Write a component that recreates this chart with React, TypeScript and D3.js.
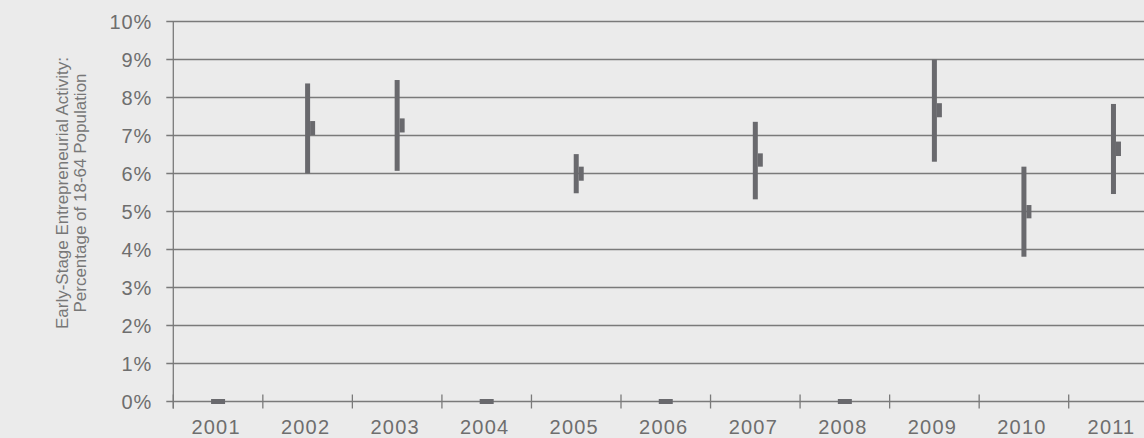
import React from 'react';
import * as d3 from 'd3';

const years = ['2001', '2002', '2003', '2004', '2005', '2006', '2007', '2008', '2009', '2010', '2011'];
// range of estimates (low / high) and the small interval box beside it, in %
const lows = [null, 6.0, 6.07, null, 5.48, null, 5.32, null, 6.31, 3.81, 5.46];
const highs = [null, 8.37, 8.46, null, 6.51, null, 7.36, null, 9.0, 6.18, 7.83];
const boxLows = [null, 7.01, 7.08, null, 5.81, null, 6.18, null, 7.48, 4.82, 6.46];
const boxHighs = [null, 7.38, 7.45, null, 6.18, null, 6.53, null, 7.85, 5.17, 6.84];
const yTicks = [0, 1, 2, 3, 4, 5, 6, 7, 8, 9, 10];
const titleLines = ['Early-Stage Entrepreneurial Activity:', 'Percentage of 18-64 Population'];

const W = 1144;
const H = 438;
const left = 173.3;
const top = 21.5;
const bottom = 401.5;

export default function App() {
  const x = d3.scaleBand<string>().domain(years).range([left, left + 11 * 89.54]).padding(0);
  const y = d3.scaleLinear().domain([0, 10]).range([bottom, top]);
  const bw = x.bandwidth();
  const markColor = '#69696d';
  const gridColor = '#7a7a7a';
  const textColor = '#6e6e6e';
  const font = 'Liberation Sans, Arial, Helvetica, sans-serif';

  const edges = years.map((d) => x(d) as number).concat([(x(years[years.length - 1]) as number) + bw]);

  return (
    <svg width={W} height={H} style={{ position: 'absolute', left: 0, top: 0, display: 'block' }}>
      <rect x={0} y={0} width={W} height={H} fill="#ebebeb" />

      {/* gridlines + y labels */}
      {yTicks.map((t) => (
        <g key={'y' + t}>
          <line x1={left - 7} x2={W} y1={y(t)} y2={y(t)} stroke={gridColor} strokeWidth={1.3} />
          <text
            x={152}
            y={y(t)}
            dy="0.35em"
            textAnchor="end"
            fontFamily={font}
            fontSize={20}
            letterSpacing={0.8}
            fill={textColor}
          >
            {t + '%'}
          </text>
        </g>
      ))}

      {/* y axis line */}
      <line x1={left} x2={left} y1={top} y2={bottom + 7} stroke={gridColor} strokeWidth={1.3} />

      {/* x ticks */}
      {edges.map((e, i) => (
        <line key={'xt' + i} x1={e} x2={e} y1={bottom - 7} y2={bottom + 7} stroke={gridColor} strokeWidth={1.3} />
      ))}

      {/* x labels */}
      {years.map((d) => (
        <text
          key={'xl' + d}
          x={(x(d) as number) + bw / 2 - 2}
          y={434}
          textAnchor="middle"
          fontFamily={font}
          fontSize={20}
          letterSpacing={1.2}
          fill={textColor}
        >
          {d}
        </text>
      ))}

      {/* marks */}
      {years.map((d, i) => {
        const cx = (x(d) as number) + bw / 2;
        if (lows[i] == null) {
          return <rect key={'m' + d} x={cx - 7} y={y(0) - 2.5} width={14} height={5} fill={markColor} />;
        }
        return (
          <g key={'m' + d}>
            <rect x={cx - 2.5} y={y(highs[i] as number)} width={5} height={y(lows[i] as number) - y(highs[i] as number)} fill={markColor} />
            <rect x={cx + 2.5} y={y(boxHighs[i] as number)} width={5} height={y(boxLows[i] as number) - y(boxHighs[i] as number)} fill={markColor} />
          </g>
        );
      })}

      {/* y title */}
      <text
        transform={`translate(68,193) rotate(-90)`}
        textAnchor="middle"
        fontFamily={font}
        fontSize={17}
        fill="#777"
      >
        <tspan x={0} dy="0">{titleLines[0]}</tspan>
        <tspan x={0} dy="17.5">{titleLines[1]}</tspan>
      </text>
    </svg>
  );
}
